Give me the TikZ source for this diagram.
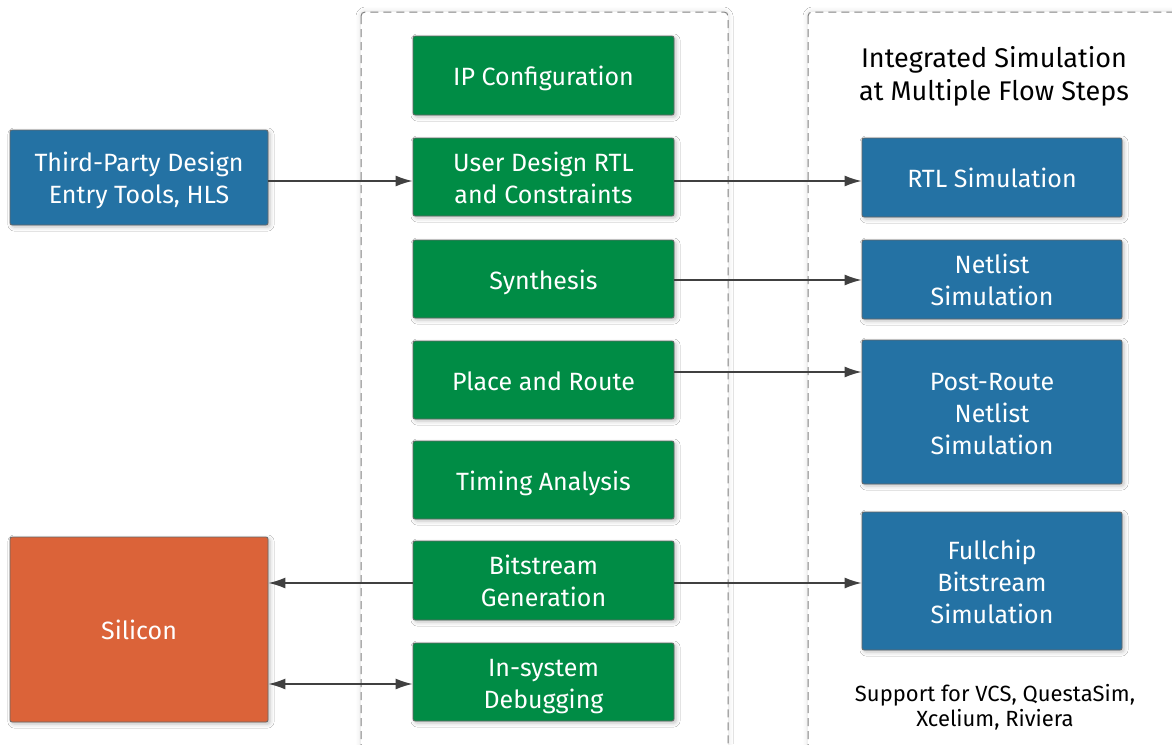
\documentclass[tikz,border=0pt]{standalone}
\usepackage{fontspec}
\setmainfont{Fira Sans}
\usetikzlibrary{shadows.blur,arrows.meta,positioning}
\definecolor{fgreen}{RGB}{0,140,69}
\definecolor{fblue}{RGB}{36,114,164}
\definecolor{forange}{RGB}{219,99,57}
\definecolor{fline}{RGB}{64,64,64}
\definecolor{fdash}{RGB}{130,130,130}
\newcommand{\topstr}{\rule{0pt}{30pt}}
\tikzset{
  box/.style={draw=fline!80, line width=0.8pt, rounded corners=2pt, text=white, align=center,
    font=\fontsize{25}{32}\selectfont, inner sep=0pt,
    blur shadow={shadow xshift=2pt, shadow yshift=-2pt, shadow blur radius=4pt, shadow opacity=25}},
  gbox/.style={box, fill=fgreen},
  bbox/.style={box, fill=fblue},
  obox/.style={box, fill=forange},
  container/.style={draw=fdash, dashed, dash pattern=on 8pt off 5pt, line width=1pt, rounded corners=4pt, fill=white,
    blur shadow={shadow xshift=0pt, shadow yshift=0pt, shadow blur radius=5pt, shadow opacity=15}},
  tip/.tip={Latex[length=17pt,width=11pt]},
  conn/.style={draw=fline, line width=1.6pt, -tip},
  conn2/.style={draw=fline, line width=1.6pt, tip-tip},
}
\begin{document}
\begin{tikzpicture}[x=1pt,y=-1pt]
\clip (0,0) rectangle (1172,744);
\fill[white] (0,0) rectangle (1172,744);
% containers
\draw[container] (361,12) rectangle (728,770);
\draw[container] (808,12) rectangle (1200,770);
% left boxes
\node[bbox, minimum width=258pt, minimum height=95pt] (tp) at (139,177.5) {\topstr Third-Party Design\\\strut Entry Tools, HLS};
\node[obox, minimum width=258pt, minimum height=185pt] (si) at (139,629.5) {\topstr Silicon\strut};
% green column
\node[gbox, minimum width=261pt, minimum height=79pt] (ip) at (543.5,75.5) {\topstr IP Configuration\strut};
\node[gbox, minimum width=261pt, minimum height=78pt] (ud) at (543.5,177) {\topstr User Design RTL\\\strut and Constraints};
\node[gbox, minimum width=261pt, minimum height=78pt] (sy) at (543.5,279) {\topstr Synthesis\strut};
\node[gbox, minimum width=261pt, minimum height=78pt] (pr) at (543.5,380) {\topstr Place and Route\strut};
\node[gbox, minimum width=261pt, minimum height=78pt] (ta) at (543.5,480) {\topstr Timing Analysis\strut};
\node[gbox, minimum width=261pt, minimum height=79pt] (bg) at (543.5,580.5) {\topstr Bitstream\\\strut Generation};
\node[gbox, minimum width=261pt, minimum height=78pt] (is) at (543.5,682) {\topstr In-system\\\strut Debugging};
% right column
\node[font=\fontsize{27}{33}\selectfont, align=center, text=black] (title) at (994,76) {Integrated Simulation\\at Multiple Flow Steps};
\node[bbox, minimum width=260pt, minimum height=79pt] (rtl) at (992,177.5) {\topstr RTL Simulation\strut};
\node[bbox, minimum width=260pt, minimum height=79pt] (nl) at (992,279.5) {\topstr Netlist\\\strut Simulation};
\node[bbox, minimum width=260pt, minimum height=144pt] (prs) at (992,412) {\topstr Post-Route\\\strut Netlist\\\strut Simulation};
\node[bbox, minimum width=260pt, minimum height=138pt] (fc) at (992,581) {\topstr Fullchip\\\strut Bitstream\\\strut Simulation};
\node[font=\fontsize{22}{25}\selectfont, align=center, text=black] (sup) at (995,707) {Support for VCS, QuestaSim,\\Xcelium, Riviera};
% connectors
\draw[conn] (tp.east |- 0,181) -- (ud.west |- 0,181);
\draw[conn] (ud.east |- 0,181) -- (rtl.west |- 0,181);
\draw[conn] (sy.east |- 0,280) -- (nl.west |- 0,280);
\draw[conn] (pr.east |- 0,372) -- (prs.west |- 0,372);
\draw[conn] (bg.west |- 0,583) -- (si.east |- 0,583);
\draw[conn] (bg.east |- 0,583) -- (fc.west |- 0,583);
\draw[conn2] (si.east |- 0,684) -- (is.west |- 0,684);
\end{tikzpicture}
\end{document}
